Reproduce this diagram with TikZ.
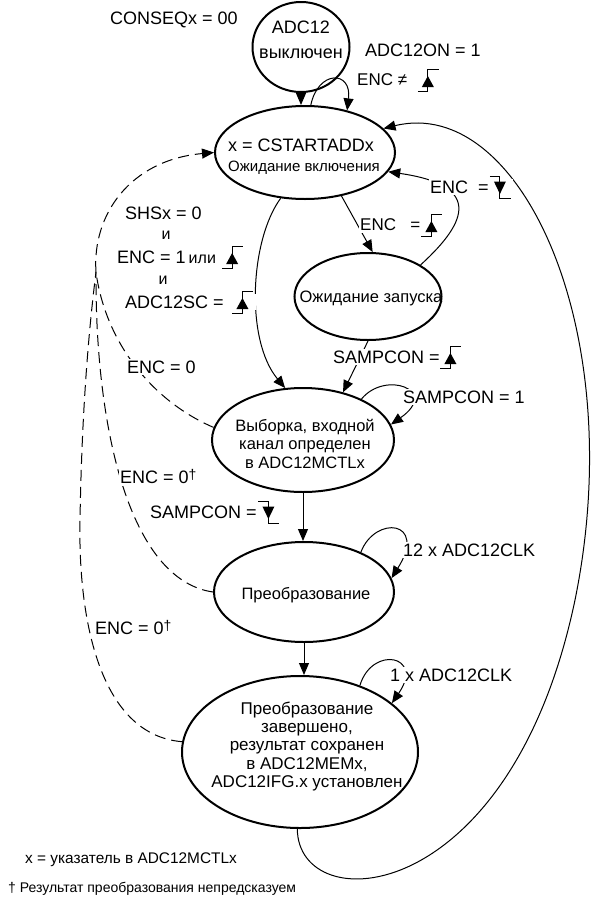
\documentclass[tikz,border=0pt]{standalone}
\usepackage{fontspec}
\setmainfont{Liberation Sans}
\usetikzlibrary{arrows.meta,shapes.geometric}
\newcommand\symgap[1]{\rule{#1pt}{0pt}}
\begin{document}
\begin{tikzpicture}[x=1pt,y=-1pt,
  st/.style={draw, ellipse, line width=2pt, inner sep=0pt},
  stxt/.style={align=center, inner sep=0pt, font=\fontsize{16.5}{18.5}\selectfont},
  lbl/.style={fill=white, inner sep=1.5pt, anchor=west, font=\fontsize{18}{21}\selectfont},
  conn/.style={line width=1pt, -{Triangle[length=12pt,width=10pt]}},
  dsh/.style={line width=1pt, dash pattern=on 11pt off 6pt},
  risesym/.pic={\draw[line width=1pt] (0,11) -- (10,11) -- (10,-11) -- (21,-11);
                \fill (10,-4) -- (4,7) -- (16,7) -- cycle;},
  fallsym/.pic={\draw[line width=1pt] (0,-11) -- (10,-11) -- (10,11) -- (21,11);
                \fill (4,-5.5) -- (16,-5.5) -- (10,7) -- cycle;}]
\useasboundingbox (0,0) rectangle (600,900);

% states
\node[st, minimum width=97, minimum height=90] (n1) at (301,47) {};
\node[st, minimum width=180, minimum height=93] (n2) at (305,152.5) {};
\node[st, minimum width=147, minimum height=87] (n3) at (368,296.5) {};
\node[st, minimum width=182, minimum height=104] (n4) at (303,440) {};
\node[st, minimum width=180, minimum height=100] (n5) at (304,592) {};
\node[st, minimum width=236, minimum height=152] (n6) at (300,752) {};

% state texts
\node[stxt, font=\fontsize{18}{25}\selectfont] (t1) at (301,40) {ADC12\\выключен};
\node[stxt, font=\fontsize{18}{21}\selectfont] (t2a) at (301,145) {x = CSTARTADDx};
\node[stxt, font=\fontsize{15}{18}\selectfont] (t2b) at (304,168) {Ожидание включения};
\node[stxt] (t3) at (371,298) {Ожидание запуска};
\node[stxt] (t4) at (305,443.5) {Выборка, входной\\канал определен\\в ADC12MCTLx};
\node[stxt] (t5) at (306,595) {Преобразование};
\node[stxt, font=\fontsize{17}{18.3}\selectfont] (t6) at (307,746.5) {Преобразование\\завершено,\\результат сохранен\\в ADC12MEMx,\\ADC12IFG.x установлен};

% solid connectors
\draw[conn] (n1.south) -- (n1.south |- n2.north);
\draw[conn] (n2.83) .. controls (318,70) and (352,70) .. (n2.45);
\draw[conn] (n2.-50) -- (n3.84);
\draw[conn] (n3.31) .. controls (470,220) and (480,185) .. (n2.-13);
\draw[conn] (n2.-118) .. controls (250,240) and (245,340) .. (n4.109);
\draw[conn] (n3.south) -- (n4.50);
\draw[conn] (n4.35) .. controls (385,370) and (440,390) .. (n4.10);
\draw[conn] (n4.south) -- (n4.south |- n5.north);
\draw[conn] (n5.35) .. controls (375,515) and (428,520) .. (n5.9);
\draw[conn] (n5.south) -- (n5.south |- n6.north);
\draw[conn] (n6.48) .. controls (372,645) and (425,655) .. (n6.28);
\draw[conn] (n6.-92) .. controls (298,920) and (510,910) .. (575,600)
            .. controls (630,330) and (520,95) .. (n2.17);

% dashed connectors
\coordinate (m) at (96,272);
\draw[dsh] (n4.172) .. controls (150,400) and (105,340) .. (m);
\draw[dsh] (n5.west) .. controls (130,580) and (95,430) .. (m);
\draw[dsh] (n6.175) .. controls (100,735) and (78,620) .. (80,520)
           .. controls (82,400) and (90,320) .. (m);
\draw[dsh, -{Triangle[length=12pt,width=10pt]}] (m) .. controls (92,215) and (130,160) .. (n2.west);

% labels
\node[lbl] (l1) at (108.5,20) {CONSEQx = 00};
\node[lbl] (l2) at (363.5,50) {ADC12ON = 1};
\node[lbl, font=\fontsize{17}{20}\selectfont] (l3) at (355.5,80) {ENC\ ≠\symgap{32.5}};
\pic at ([xshift=-23.5pt]l3.east) {risesym};
\node[lbl, font=\fontsize{17}{20}\selectfont] (l4) at (358.5,225) {ENC\ \ \ =\symgap{23}};
\pic at ([xshift=-23.5pt]l4.east) {risesym};
\node[lbl] (l5) at (428.5,187) {ENC\ \ =\symgap{23}};
\pic at ([xshift=-23.5pt]l5.east) {fallsym};
\node[lbl] (l6) at (331.5,357) {SAMPCON =\symgap{22.5}};
\pic at ([xshift=-23.5pt]l6.east) {risesym};
\node[lbl] (l7) at (401.5,397) {SAMPCON = 1};
\node[lbl] (l8) at (148.5,512) {SAMPCON =\symgap{23.5}};
\pic at ([xshift=-23.5pt]l8.east) {fallsym};
\node[lbl] (l9) at (401.5,550) {12 x ADC12CLK};
\node[lbl] (l10) at (388.5,675) {1 x ADC12CLK};

% start condition block
\node[lbl] (s1) at (123.5,213) {SHSx = 0};
\node[lbl, anchor=center, font=\fontsize{16}{18}\selectfont] (s2) at (166,235) {и};
\node[lbl] (s3) at (115.5,257) {ENC = 1\,{\fontsize{16}{18}\selectfont или}\symgap{28}};
\pic at ([xshift=-23.5pt]s3.east) {risesym};
\node[lbl, anchor=center, font=\fontsize{16}{18}\selectfont] (s4) at (163,280) {и};
\node[lbl] (s5) at (123.5,302) {ADC12SC =\symgap{30.5}};
\pic at ([xshift=-23.5pt]s5.east) {risesym};

% dashed labels
\node[lbl] (e1) at (125.5,367) {ENC = 0};
\node[lbl] (e2) at (118.5,477) {ENC = 0\raisebox{4pt}{\fontsize{14}{14}\selectfont †}};
\node[lbl] (e3) at (93.5,628) {ENC = 0\raisebox{4pt}{\fontsize{14}{14}\selectfont †}};

% footnotes
\node[anchor=west, inner sep=0pt, font=\fontsize{15.4}{18}\selectfont] (f1) at (25,860) {x = указатель в ADC12MCTLx};
\node[anchor=west, inner sep=0pt, font=\fontsize{14}{17}\selectfont] (f2) at (8,889) {† Результат преобразования непредсказуем};
\end{tikzpicture}
\end{document}
